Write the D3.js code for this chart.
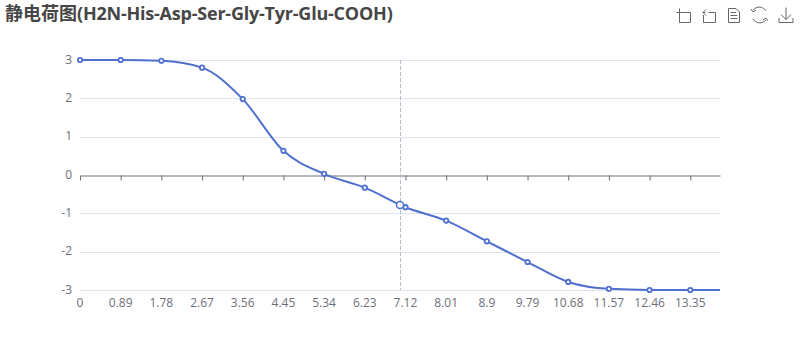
<!DOCTYPE html>
<html>
<head>
<meta charset="utf-8">
<script src="https://cdn.jsdelivr.net/npm/d3@7"></script>
<style>
    html, body { margin: 0; padding: 0; background: #fff; }
    text { font-family: "Open Sans", "Noto Sans", sans-serif; }
</style>
</head>
<body>
<div id="chart"></div>
<script>
// DATA
const titleCjk = "静电荷图";
const titleLatin = "(H2N-His-Asp-Ser-Gly-Tyr-Glu-COOH)";
const phValues = [0, 0.89, 1.78, 2.67, 3.56, 4.45, 5.34, 6.23, 7.12, 8.01, 8.9, 9.79, 10.68, 11.57, 12.46, 13.35, 14];
const chargeValues = [3, 3, 2.98, 2.8, 1.98, 0.63, 0.03, -0.33, -0.84, -1.19, -1.73, -2.27, -2.79, -2.97, -3, -3, -3];
const xTicks = [0, 0.89, 1.78, 2.67, 3.56, 4.45, 5.34, 6.23, 7.12, 8.01, 8.9, 9.79, 10.68, 11.57, 12.46, 13.35];
const yTicks = [3, 2, 1, 0, -1, -2, -3];
const hoverPh = 7;
const hoverCharge = -0.78;

const width = 800, height = 360;
const svg = d3.select("#chart").append("svg")
    .attr("width", width)
    .attr("height", height)
    .style("display", "block");

const x = d3.scaleLinear().domain([0, 14]).range([80, 720]);
const y = d3.scaleLinear().domain([-3, 3]).range([290, 60]);

// TITLE
const title = svg.append("text")
    .attr("x", 5)
    .attr("y", 20)
    .attr("fill", "#464646")
    .style("font-size", "18px")
    .style("font-weight", "bold");
title.append("tspan")
    .style("font-family", '"Noto Sans CJK SC"')
    .text(titleCjk);
title.append("tspan")
    .style("letter-spacing", "-0.22px")
    .text(titleLatin);

// GRID LINES
svg.append("g").selectAll("line")
    .data(yTicks.filter(d => d !== 0))
    .join("line")
    .attr("x1", x(0))
    .attr("x2", x(14))
    .attr("y1", d => Math.round(y(d)) + 0.5)
    .attr("y2", d => Math.round(y(d)) + 0.5)
    .attr("stroke", "#E0E6F1");

// Y AXIS
const yAxis = d3.axisLeft(y).tickValues(yTicks).tickSize(0).tickPadding(8).tickFormat(d => d);
const yG = svg.append("g").attr("transform", `translate(${x(0)},0)`).call(yAxis);
yG.select(".domain").remove();
yG.selectAll("text")
    .attr("fill", "#6E7079")
    .attr("dy", "0.25em")
    .style("font-family", '"Open Sans"')
    .style("font-size", "12px");

// X AXIS (line sits on zero, labels sit at the bottom)
const xAxis = d3.axisBottom(x).tickValues(xTicks).tickSize(5).tickSizeOuter(0).tickFormat(() => "");
const xG = svg.append("g").attr("transform", `translate(0,${Math.round(y(0)) + 0.5})`).call(xAxis);
xG.select(".domain").attr("stroke", "#6E7079");
xG.selectAll("line").attr("stroke", "#6E7079");

svg.append("g").selectAll("text")
    .data(xTicks)
    .join("text")
    .attr("x", d => x(d))
    .attr("y", 307)
    .attr("text-anchor", "middle")
    .attr("fill", "#6E7079")
    .style("font-size", "12px")
    .text(d => d);

// CROSSHAIR
svg.append("line")
    .attr("x1", x(hoverPh) + 0.5)
    .attr("x2", x(hoverPh) + 0.5)
    .attr("y1", y(3))
    .attr("y2", y(-3))
    .attr("stroke", "#B9BEC9")
    .attr("stroke-dasharray", "4,2");

// LINE
const line = d3.line()
    .x((d, i) => x(phValues[i]))
    .y(d => y(d))
    .curve(d3.curveMonotoneX);

svg.append("path")
    .datum(chargeValues)
    .attr("fill", "none")
    .attr("stroke", "#5070D0")
    .attr("stroke-width", 2)
    .attr("d", line);

// POINTS (last value only closes the line)
svg.append("g").selectAll("circle")
    .data(chargeValues.slice(0, -1))
    .join("circle")
    .attr("cx", (d, i) => x(phValues[i]))
    .attr("cy", d => y(d))
    .attr("r", 2.2)
    .attr("fill", "#fff")
    .attr("stroke", "#5070D0")
    .attr("stroke-width", 1.8);

svg.append("circle")
    .attr("cx", x(hoverPh))
    .attr("cy", y(hoverCharge))
    .attr("r", 3.5)
    .attr("fill", "#fff")
    .attr("stroke", "#5070D0")
    .attr("stroke-width", 1.5);

// TOOLBOX ICONS
const toolIcons = [
    "M676.5 12.5H690.5V22.5H679.5V8.5",
    "M703 12.5H705M708.5 12.5H715.5V22.5H703.5V15M703 12.5L706 9.5M703 12.5L706 15.5",
    "M728.5 8.5H736L739.5 12V22.5H728.5ZM730.5 12.5H736M730.5 15.5H737.5M730.5 18.5H737.5",
    "M753 10A8 8 0 0 1 766 11M766 20A8 8 0 0 1 753 19M751 9L753 12L756 10M768 21L766 18L763 20",
    "M786 7.5V19.5M781 14.5L786 19.5L791 14.5M779 18V22.5H793V18"
];
svg.append("g").selectAll("path")
    .data(toolIcons)
    .join("path")
    .attr("d", d => d)
    .attr("fill", "none")
    .attr("stroke", "#666");
</script>
</body>
</html>
